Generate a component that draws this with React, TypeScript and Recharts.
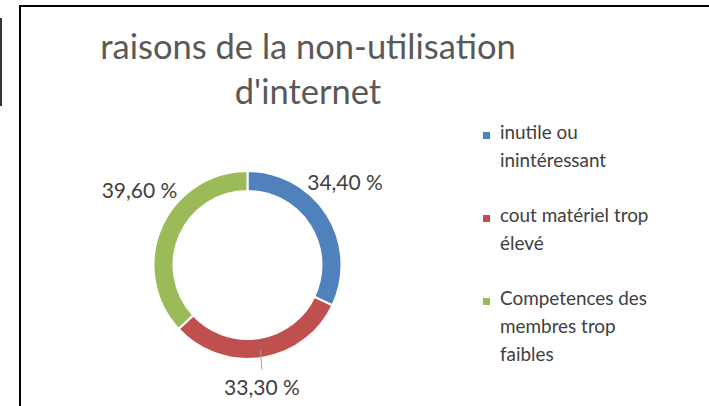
import { Cell, Legend, Pie, PieChart } from "recharts";

const categories = [
  "inutile ou inintéressant",
  "cout matériel trop élevé",
  "Competences des membres trop faibles",
];
const values = [34.4, 33.3, 39.6];
const valueLabels = ["34,40 %", "33,30 %", "39,60 %"];
const legendLines = [
  ["inutile ou", "inintéressant"],
  ["cout matériel trop", "élevé"],
  ["Competences des", "membres trop", "faibles"],
];

const colors = ["#4F81BD", "#C0504D", "#9BBB59"];
// label placement: [angle in degrees, radius from centre]
const labelPlacement: [number, number][] = [
  [40.7, 128.7],
  [-83.2, 121.9],
  [145, 131.8],
];

const data = categories.map((name, i) => ({ name, value: values[i] }));

const font = "Lato, 'Open Sans', sans-serif";
const textColor = "#404040";
const RAD = Math.PI / 180;

function renderLabel(props: any) {
  const { cx, cy, index, midAngle } = props;
  const [angle, r] = labelPlacement[index];
  const x = cx + r * Math.cos(angle * RAD);
  const y = cy - r * Math.sin(angle * RAD);
  let leader = null;
  if (index === 1) {
    const r1 = 86;
    leader = (
      <line
        x1={cx + r1 * Math.cos(midAngle * RAD)}
        y1={cy - r1 * Math.sin(midAngle * RAD)}
        x2={x}
        y2={cy + 105}
        stroke="#a6a6a6"
        strokeWidth={1}
      />
    );
  }
  return (
    <g key={`lbl-${index}`}>
      {leader}
      <text
        x={x}
        y={y}
        textAnchor="middle"
        dominantBaseline="central"
        fontFamily={font}
        fontSize={21}
        fill={textColor}
      >
        {valueLabels[index]}
      </text>
    </g>
  );
}

function LegendContent() {
  return (
    <div style={{ fontFamily: font, fontSize: 18.9, color: textColor }}>
      {legendLines.map((lines, i) => (
        <div key={i} style={{ position: "relative", marginBottom: 27.7, lineHeight: "27.7px" }}>
          <span
            style={{
              position: "absolute",
              left: -17,
              top: 14,
              width: 7,
              height: 7,
              background: colors[i],
            }}
          />
          {lines.map((l) => (
            <div key={l}>{l}</div>
          ))}
        </div>
      ))}
    </div>
  );
}

export default function App() {
  return (
    <div
      style={{
        position: "absolute",
        left: 0,
        top: 0,
        width: 709,
        height: 406,
        background: "#fff",
        overflow: "hidden",
      }}
    >
      <div
        style={{
          position: "absolute",
          left: 0,
          top: 18,
          width: 2,
          height: 88,
          background: "#333",
        }}
      />
      <div
        style={{
          position: "absolute",
          left: 19,
          top: 5,
          width: 700,
          height: 420,
          borderLeft: "2px solid #000",
          borderTop: "2px solid #000",
        }}
      />
      <div
        style={{
          position: "absolute",
          left: 58,
          top: 23,
          width: 500,
          textAlign: "center",
          fontFamily: font,
          fontSize: 34.5,
          lineHeight: "45px",
          color: "#595959",
        }}
      >
        raisons de la non-utilisation
        <br />
        d'internet
      </div>
      <PieChart width={709} height={406} style={{ position: "absolute", left: 0, top: 0 }}>
        <Pie
          data={data}
          dataKey="value"
          nameKey="name"
          cx={242.5}
          cy={260}
          innerRadius={74}
          outerRadius={94}
          startAngle={90}
          endAngle={-270}
          stroke="#fff"
          strokeWidth={2}
          label={renderLabel}
          labelLine={false}
          isAnimationActive={false}
        >
          {data.map((d, i) => (
            <Cell key={d.name} fill={colors[i]} />
          ))}
        </Pie>
        <Legend
          layout="vertical"
          content={<LegendContent />}
          wrapperStyle={{ position: "absolute", left: 500, top: 118, width: 205 }}
        />
      </PieChart>
    </div>
  );
}
